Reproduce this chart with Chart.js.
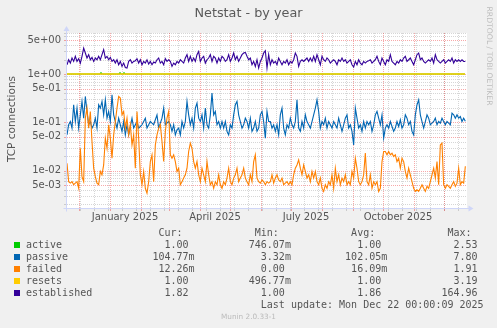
<!DOCTYPE html>
<html lang="en">
<head>
  <meta charset="UTF-8">
  <title>Netstat - by year</title>
  <script src="https://cdn.jsdelivr.net/npm/chart.js"></script>
  <style>
    body {
      margin: 0;
      width: 497px;
      height: 328px;
      background: #f0f0f0;
      position: relative;
      overflow: hidden;
    }

    #graph {
      position: absolute;
      left: 0;
      top: 0;
    }

    .txt {
      position: absolute;
      white-space: pre;
      color: #555;
      font-family: "DejaVu Sans", sans-serif;
    }

    #title {
      left: 0;
      width: 497px;
      top: 5px;
      text-align: center;
      font-size: 12.8px;
      line-height: 16px;
      color: #5a5a5a;
    }

    #ytitle {
      left: -49px;
      top: 112px;
      width: 120px;
      height: 14px;
      line-height: 14px;
      text-align: center;
      font-size: 10.5px;
      transform: rotate(-90deg);
    }

    #rrd {
      left: 429px;
      top: 51px;
      width: 120px;
      height: 10px;
      line-height: 10px;
      text-align: center;
      font-size: 7.7px;
      color: #bdbdbd;
      transform: rotate(90deg);
    }

    #legend {
      left: 26px;
      top: 227px;
      margin: 0;
      font-family: "DejaVu Sans Mono", monospace;
      font-size: 10px;
      line-height: 12px;
    }

    .swatch {
      position: absolute;
      left: 14px;
      width: 6px;
      height: 6px;
    }

    #footer {
      left: 0;
      width: 497px;
      top: 312px;
      text-align: center;
      font-size: 7.3px;
      line-height: 10px;
      color: #bbbbbb;
    }
  </style>
</head>
<body>

  <canvas id="graph" width="497" height="328"></canvas>
  <div class="txt" id="title">Netstat - by year</div>
  <div class="txt" id="ytitle">TCP connections</div>
  <div class="txt" id="rrd">RRDTOOL / TOBI OETIKER</div>
  <pre class="txt" id="legend"></pre>
  <div class="txt" id="footer">Munin 2.0.33-1</div>

  <script>
    // samples, one every 5/3 day starting at the left edge (Nov 19 2024)
    const sampleStep = 5 / 3;

    const passive = [
      0.055, 0.089, 0.104, 0.076, 0.231, 0.104, 0.197, 0.076, 0.143, 0.271, 0.122, 0.344, 0.168, 0.089, 0.104, 0.076, 0.089, 0.122, 0.076, 0.231,
      0.197, 0.271, 0.143, 0.293, 0.122, 0.168, 0.104, 0.372, 0.143, 0.104, 0.076, 0.122, 0.089, 0.065, 0.104, 0.055, 0.089, 0.055, 0.082, 0.122,
      0.076, 0.089, 0.104, 0.076, 0.082, 0.089, 0.104, 0.122, 0.076, 0.089, 0.104, 0.096, 0.089, 0.113, 0.143, 0.076, 0.096, 0.122, 0.197, 0.089,
      0.096, 0.104,
      0.089, 0.065, 0.089, 0.055, 0.070, 0.076, 0.055, 0.104, 0.076, 0.104, 0.271, 0.143, 0.089, 0.122, 0.076, 0.197, 0.250, 0.122, 0.104, 0.143,
      0.076, 0.197, 0.089, 0.076, 0.143, 0.404, 0.143, 0.168, 0.089, 0.104, 0.076, 0.104, 0.076, 0.104, 0.065, 0.055, 0.089, 0.076, 0.143, 0.231,
      0.271, 0.143, 0.104, 0.076, 0.089, 0.122, 0.104, 0.076, 0.122, 0.065, 0.076, 0.104, 0.065, 0.076, 0.143, 0.168, 0.104, 0.047, 0.168, 0.104,
      0.104, 0.076, 0.089, 0.065, 0.089, 0.055, 0.143, 0.197, 0.076, 0.055, 0.089, 0.076, 0.122, 0.089, 0.076, 0.104, 0.293, 0.076, 0.065, 0.104,
      0.076, 0.143, 0.104, 0.089, 0.076, 0.104, 0.143, 0.197, 0.293, 0.168, 0.076, 0.104, 0.089, 0.122, 0.076, 0.104, 0.089, 0.076, 0.104, 0.089,
      0.076, 0.122, 0.089, 0.065, 0.089, 0.122, 0.143, 0.076, 0.089, 0.065, 0.034, 0.197, 0.122, 0.076, 0.089, 0.065, 0.104, 0.076, 0.104, 0.089,
      0.104, 0.065, 0.089, 0.143, 0.168, 0.122, 0.089, 0.143, 0.047, 0.076, 0.089, 0.076, 0.104, 0.082, 0.065, 0.076, 0.104, 0.082, 0.113, 0.076,
      0.089, 0.143, 0.122, 0.089, 0.104, 0.065, 0.055, 0.143, 0.231, 0.293, 0.143, 0.104, 0.076, 0.104, 0.143, 0.122, 0.089, 0.096, 0.104, 0.122,
      0.089, 0.104, 0.096, 0.122, 0.104, 0.089, 0.104, 0.096, 0.089, 0.155, 0.143, 0.122, 0.143, 0.122, 0.132, 0.104, 0.122, 0.105];

    const failed = [
      0.0142, 0.0059, 0.0055, 0.0059, 0.0051, 0.0055, 0.0059, 0.0043, 0.029, 0.0075, 0.0059, 0.122, 0.197, 0.076, 0.168, 0.040, 0.0112, 0.0075, 0.0055, 0.0051,
      0.0096, 0.0082, 0.0131, 0.047, 0.029, 0.089, 0.047, 0.0181, 0.055, 0.104, 0.197, 0.344, 0.318, 0.143, 0.168, 0.076, 0.122, 0.055, 0.089, 0.034,
      0.055, 0.0112, 0.168, 0.047, 0.0082, 0.0051, 0.0096, 0.0043, 0.0034, 0.0059, 0.0154, 0.0212, 0.0059, 0.034, 0.055, 0.076, 0.089, 0.040, 0.0154, 0.065,
      0.122, 0.168,
      0.0212, 0.0181, 0.0212, 0.0154, 0.0096, 0.0112, 0.0051, 0.0059, 0.0070, 0.0082, 0.0112, 0.0249, 0.037, 0.029, 0.0154, 0.0112, 0.0154, 0.0082, 0.0059, 0.0112,
      0.0082, 0.0059, 0.0154, 0.0082, 0.0051, 0.0059, 0.0043, 0.0059, 0.0051, 0.0082, 0.0051, 0.0043, 0.0059, 0.0051, 0.0070, 0.0112, 0.0059, 0.0051, 0.0070, 0.0082,
      0.0112, 0.0059, 0.0070, 0.0082, 0.0112, 0.0070, 0.0059, 0.0051, 0.0082, 0.0059, 0.0154, 0.0212, 0.0070, 0.0059, 0.0055, 0.0064, 0.0059, 0.0051, 0.0059, 0.0055,
      0.0059, 0.0082, 0.0055, 0.0070, 0.0082, 0.0064, 0.0059, 0.0070, 0.0051, 0.0055, 0.0059, 0.0051, 0.0059, 0.0051, 0.0082, 0.0112, 0.0131, 0.0167, 0.0112, 0.0082,
      0.0131, 0.0096, 0.0070, 0.0082, 0.0059, 0.0096, 0.0070, 0.0096, 0.0059, 0.0051, 0.0070, 0.0043, 0.0037, 0.0051, 0.0043, 0.0059, 0.0051, 0.0082, 0.0043, 0.0112,
      0.0059, 0.0082, 0.0051, 0.0070, 0.0059, 0.0082, 0.0051, 0.0059, 0.0051, 0.0096, 0.0070, 0.0181, 0.0112, 0.0059, 0.0051, 0.0059, 0.0082, 0.0230, 0.0059, 0.0051,
      0.0082, 0.0043, 0.0059, 0.0051, 0.0059, 0.0037, 0.0043, 0.0154, 0.0249, 0.0249, 0.0212, 0.0249, 0.0212, 0.0230, 0.0196, 0.0212, 0.0154, 0.0181, 0.0112, 0.0181,
      0.0154, 0.0096, 0.0070, 0.0112, 0.0082, 0.0059, 0.0043, 0.0037, 0.0040, 0.0037, 0.0043, 0.0051, 0.0043, 0.0037, 0.0047, 0.0043, 0.0059, 0.0082, 0.0112, 0.0070,
      0.0154, 0.0051, 0.034, 0.037, 0.0051, 0.0043, 0.0051, 0.0047, 0.0043, 0.0051, 0.0059, 0.0047, 0.0055, 0.0112, 0.0051, 0.0059, 0.0055, 0.0123];

    const established = [
      1.56, 1.98, 1.69, 2.15, 1.83, 2.33, 1.83, 2.08, 1.69, 2.33, 3.46, 2.73, 2.15, 2.52, 1.98, 2.22, 1.83, 2.15, 1.98, 2.33,
      1.98, 2.52, 3.20, 2.15, 2.33, 1.98, 2.22, 1.83, 1.98, 1.69, 1.98, 1.56, 1.83, 1.44, 1.69, 1.37, 1.33, 1.83, 1.98, 1.69,
      1.83, 1.89, 2.08, 1.69, 1.98, 1.56, 1.83, 1.69, 1.98, 1.61, 1.83, 1.56, 1.77, 1.69, 1.98, 2.15, 1.69, 1.83, 1.56, 2.08,
      1.83, 1.98,
      1.83, 1.44, 1.69, 1.56, 1.83, 1.69, 1.98, 1.83, 1.69, 2.15, 2.52, 1.83, 2.33, 1.83, 2.15, 1.83, 2.52, 2.95, 1.83, 2.15,
      2.33, 1.69, 1.98, 2.15, 2.52, 1.83, 2.33, 2.15, 1.69, 2.15, 1.83, 2.33, 2.15, 1.83, 1.98, 2.52, 1.83, 2.15, 2.73, 1.98,
      2.33, 1.83, 2.15, 2.52, 2.73, 2.81, 2.33, 1.98, 2.15, 1.56, 1.83, 1.44, 1.98, 1.33, 1.83, 2.15, 2.73, 3.05, 1.33, 2.52,
      1.56, 1.98, 1.69, 1.83, 1.56, 2.15, 1.83, 1.56, 1.83, 1.69, 1.98, 1.56, 1.83, 1.69, 1.98, 2.73, 2.33, 1.44, 1.83, 1.98,
      1.83, 1.98, 2.15, 1.83, 2.15, 1.83, 2.33, 1.83, 2.52, 1.98, 1.56, 2.33, 1.98, 1.83, 2.15, 1.98, 1.69, 1.83, 1.98, 1.83,
      1.56, 1.98, 1.83, 2.15, 1.83, 1.98, 1.69, 1.83, 1.98, 1.56, 1.40, 1.83, 1.56, 1.98, 1.69, 1.56, 1.83, 1.69, 1.83, 1.89,
      1.98, 1.69, 1.83, 1.98, 2.33, 1.83, 1.56, 2.15, 1.83, 1.56, 1.98, 1.83, 2.52, 1.83, 1.69, 1.56, 1.83, 1.69, 1.98, 1.83,
      2.15, 2.33, 1.83, 1.98, 2.15, 1.83, 1.56, 1.98, 2.52, 2.73, 1.98, 2.15, 1.83, 1.69, 1.83, 1.98, 1.83, 2.15, 1.69, 2.52,
      1.98, 1.83, 1.69, 1.83, 1.98, 1.69, 1.83, 1.98, 1.83, 2.15, 1.69, 1.98, 1.83, 1.98, 1.83, 1.98, 1.83, 1.82];

    // active and resets sit on 1.0, active only pokes out on a few days
    const activeDays = [0, 33, 34, 35, 52, 53, 54, 56, 57, 58, 398];
    const active = [1, 1, 1.07, 1, 1, 1.07, 1, 1, 1.07, 1, 1];
    const resetsDays = [0, 398];
    const resets = [1, 1];

    // legend
    const seriesNames = ['active', 'passive', 'failed', 'resets', 'established'];
    const seriesColors = ['#00cc00', '#0066b3', '#ff8000', '#ffcc00', '#330099'];
    const curText = ['1.00', '104.77m', '12.26m', '1.00', '1.82'];
    const minText = ['746.07m', '3.32m', '0.00', '496.77m', '1.00'];
    const avgText = ['1.00', '102.05m', '16.09m', '1.00', '1.86'];
    const maxText = ['2.53', '7.80', '1.91', '3.19', '164.96'];
    const lastUpdate = 'Last update: Mon Dec 22 00:00:09 2025';

    // axes
    const xTickDays = [58, 148, 239, 331];
    const xTickLabels = ['January 2025', 'April 2025', 'July 2025', 'October 2025'];
    const monthStarts = [12, 43, 74, 102, 133, 163, 194, 224, 255, 286, 316, 347, 377];
    const minorDays = [13, 27, 41, 55, 69, 83, 97, 111, 125, 139, 153, 167, 181, 195, 209, 223, 237, 251, 265, 279, 293, 307, 321, 335, 349, 363, 377, 391];
    const yTickValues = [5, 1, 0.5, 0.1, 0.05, 0.01, 0.005];
    const yTickLabels = ['5e+00', '1e+00', '5e-01', '1e-01', '5e-02', '1e-02', '5e-03'];

    const gridGray = 'rgba(120,120,120,0.3)';
    const gridRed = 'rgba(235,40,40,0.4)';
    const axisColor = '#cfd6f8';

    // build the legend text (munin style fixed columns)
    function field(v) {
      return (v.endsWith('m') ? v : v + ' ').padStart(7);
    }
    let lines = [' '.repeat(22) + 'Cur:' + ' '.repeat(12) + 'Min:' + ' '.repeat(12) + 'Avg:' + ' '.repeat(12) + 'Max:'];
    seriesNames.forEach((name, i) => {
      lines.push(name.padEnd(21) + field(curText[i]) + ' '.repeat(9) + field(minText[i]) + ' '.repeat(9) +
        field(avgText[i]) + ' '.repeat(9) + field(maxText[i]));
      const sw = document.createElement('div');
      sw.className = 'swatch';
      sw.style.top = (242 + 12 * i) + 'px';
      sw.style.background = seriesColors[i];
      document.body.appendChild(sw);
    });
    lines.push(' '.repeat(39) + lastUpdate);
    document.getElementById('legend').textContent = lines.join('\n');

    function points(xs, ys) {
      return xs.map((d, i) => ({ x: d, y: ys[i] }));
    }
    function sampled(ys) {
      return ys.map((v, i) => ({ x: i * sampleStep, y: v }));
    }

    const muninFrame = {
      id: 'muninFrame',
      beforeDatasetsDraw(chart) {
        const { ctx, chartArea: a, scales } = chart;
        const xs = scales.x, ys = scales.y;
        ctx.save();
        ctx.fillStyle = '#ffffff';
        ctx.fillRect(a.left, a.top, a.right - a.left, a.bottom - a.top);
        ctx.lineWidth = 1;

        const hPix = v => Math.round(ys.getPixelForValue(v)) + 0.5;
        const vPix = d => Math.round(xs.getPixelForValue(d)) + 0.5;
        const minorVals = [];
        for (let e = -3; e <= 0; e++) {
          [2, 3, 4, 6, 7, 8, 9].forEach(m => {
            const v = m * Math.pow(10, e);
            if (v > ys.min && v < ys.max) minorVals.push(v);
          });
        }

        function drawH(vals, color) {
          ctx.strokeStyle = color;
          vals.forEach(v => {
            const py = hPix(v);
            ctx.setLineDash([1, 1]);
            ctx.beginPath(); ctx.moveTo(a.left, py); ctx.lineTo(a.right, py); ctx.stroke();
            ctx.setLineDash([]);
            ctx.beginPath(); ctx.moveTo(a.left - 3, py); ctx.lineTo(a.left, py); ctx.stroke();
          });
        }
        function drawV(vals, color) {
          ctx.strokeStyle = color;
          vals.forEach(d => {
            if (d <= xs.min || d >= xs.max) return;
            const px = vPix(d);
            ctx.setLineDash([1, 1]);
            ctx.beginPath(); ctx.moveTo(px, a.top); ctx.lineTo(px, a.bottom); ctx.stroke();
            ctx.setLineDash([]);
            ctx.beginPath(); ctx.moveTo(px, a.bottom); ctx.lineTo(px, a.bottom + 3); ctx.stroke();
          });
        }
        drawH(minorVals, gridGray);
        drawV(minorDays, gridGray);
        drawH(yTickValues, gridRed);
        drawV(monthStarts, gridRed);
        ctx.restore();
      },
      afterDraw(chart) {
        const { ctx, chartArea: a } = chart;
        const x0 = a.left - 0.5, y0 = a.bottom + 0.5;
        ctx.save();
        ctx.strokeStyle = axisColor;
        ctx.fillStyle = axisColor;
        ctx.lineWidth = 1;
        ctx.beginPath();
        ctx.moveTo(x0, y0 + 3); ctx.lineTo(x0, a.top - 3);
        ctx.moveTo(x0 - 3, y0); ctx.lineTo(a.right + 2, y0);
        ctx.stroke();
        ctx.beginPath();
        ctx.moveTo(x0, a.top - 7); ctx.lineTo(x0 - 3, a.top - 2); ctx.lineTo(x0 + 3, a.top - 2);
        ctx.closePath(); ctx.fill();
        ctx.beginPath();
        ctx.moveTo(a.right + 6.5, y0); ctx.lineTo(a.right + 1.5, y0 - 3); ctx.lineTo(a.right + 1.5, y0 + 3);
        ctx.closePath(); ctx.fill();
        ctx.restore();
      }
    };

    const tickFont = { family: 'DejaVu Sans', size: 10 };

    new Chart(document.getElementById('graph'), {
      type: 'line',
      data: {
        datasets: [
          { label: 'active', data: points(activeDays, active), borderColor: seriesColors[0], order: 5 },
          { label: 'passive', data: sampled(passive), borderColor: seriesColors[1], order: 4 },
          { label: 'failed', data: sampled(failed), borderColor: seriesColors[2], order: 3 },
          { label: 'resets', data: points(resetsDays, resets), borderColor: seriesColors[3], order: 2, borderWidth: 1.5 },
          { label: 'established', data: sampled(established), borderColor: seriesColors[4], order: 1 }
        ]
      },
      options: {
        responsive: false,
        animation: false,
        devicePixelRatio: 1,
        layout: { padding: { left: 0, top: 33, right: 30, bottom: 0 } },
        elements: {
          point: { radius: 0 },
          line: { borderWidth: 1.1, tension: 0, fill: false }
        },
        plugins: { legend: { display: false }, tooltip: { enabled: false } },
        scales: {
          x: {
            type: 'linear',
            min: 0,
            max: 400,
            bounds: 'data',
            grid: { display: false, drawTicks: false },
            border: { display: false },
            afterBuildTicks: s => { s.ticks = xTickDays.map(v => ({ value: v })); },
            afterFit: s => { s.height = 120; },
            ticks: {
              autoSkip: false,
              maxRotation: 0,
              padding: 3,
              color: '#555',
              font: tickFont,
              callback: (v, i) => xTickLabels[i]
            }
          },
          y: {
            type: 'logarithmic',
            min: 0.00168,
            max: 7.09,
            bounds: 'data',
            grid: { display: false, drawTicks: false },
            border: { display: false },
            afterBuildTicks: s => { s.ticks = yTickValues.map(v => ({ value: v })); },
            afterFit: s => { s.width = 67; },
            ticks: {
              autoSkip: false,
              padding: 6,
              color: '#555',
              font: tickFont,
              callback: (v, i) => yTickLabels[i]
            }
          }
        }
      },
      plugins: [muninFrame]
    });
  </script>

</body>
</html>
